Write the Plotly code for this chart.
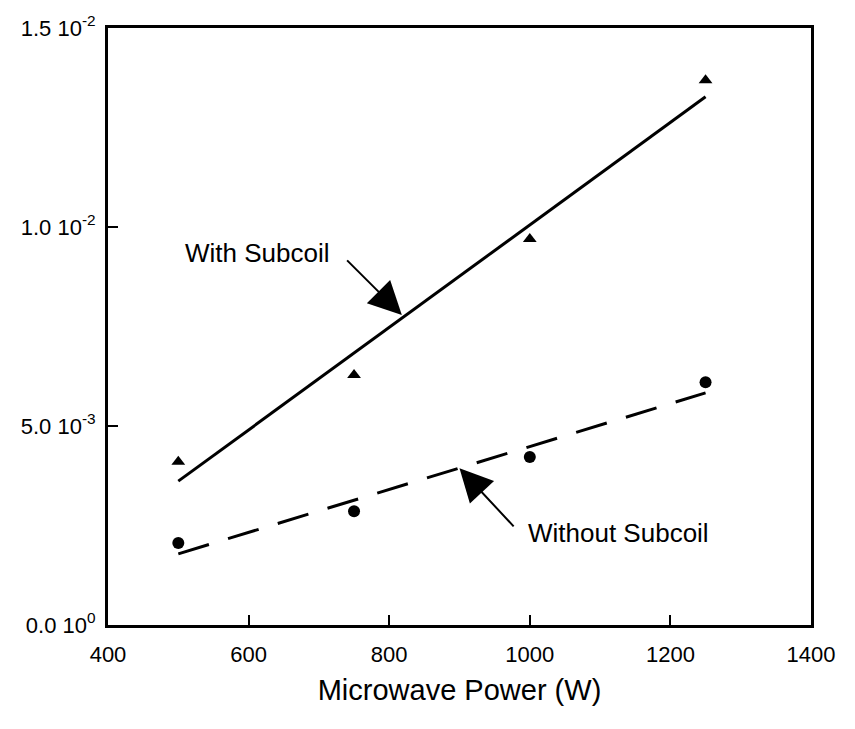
import numpy as np
import plotly.graph_objects as go

# Measured rate vs. microwave power
power_w = [500, 750, 1000, 1250]
with_subcoil = [4.10e-3, 6.28e-3, 9.70e-3, 13.69e-3]
without_subcoil = [2.06e-3, 2.86e-3, 4.22e-3, 6.10e-3]

x_ticks = [400, 600, 800, 1000, 1200, 1400]
y_ticks = [0.0, 5.0e-3, 1.0e-2, 1.5e-2]
y_tick_text = ["0.0 10<sup>0</sup>", "5.0 10<sup>-3</sup>",
               "1.0 10<sup>-2</sup>", "1.5 10<sup>-2</sup>"]

FONT = "Arial, Liberation Sans, sans-serif"

# Least-squares straight lines through each series
fit_x = np.array([power_w[0], power_w[-1]])
fit_with = np.polyval(np.polyfit(power_w, with_subcoil, 1), fit_x)
fit_without = np.polyval(np.polyfit(power_w, without_subcoil, 1), fit_x)

fig = go.Figure()
fig.add_trace(go.Scatter(x=fit_x, y=fit_with, mode="lines",
                         line=dict(color="black", width=3), showlegend=False))
fig.add_trace(go.Scatter(x=fit_x, y=fit_without, mode="lines",
                         line=dict(color="black", width=3, dash="32px,20px"),
                         showlegend=False))
fig.add_trace(go.Scatter(x=power_w, y=with_subcoil, mode="markers",
                         marker=dict(symbol="triangle-up", size=12, color="black"),
                         showlegend=False))
fig.add_trace(go.Scatter(x=power_w, y=without_subcoil, mode="markers",
                         marker=dict(symbol="circle", size=12, color="black"),
                         showlegend=False))

# Series labels with pointer arrows
fig.add_annotation(x=612, y=9.35e-3, xref="x", yref="y", text="With Subcoil",
                   showarrow=False, font=dict(family=FONT, size=26, color="black"))
fig.add_annotation(x=818, y=7.79e-3, ax=738, ay=9.2e-3, axref="x", ayref="y",
                   text="", showarrow=True, arrowhead=2, arrowsize=3.3,
                   arrowwidth=2, arrowcolor="black")
fig.add_annotation(x=1126, y=2.31e-3, xref="x", yref="y", text="Without Subcoil",
                   showarrow=False, font=dict(family=FONT, size=26, color="black"))
fig.add_annotation(x=900, y=3.94e-3, ax=979, ay=2.44e-3, axref="x", ayref="y",
                   text="", showarrow=True, arrowhead=2, arrowsize=3.3,
                   arrowwidth=2, arrowcolor="black")

fig.update_xaxes(range=[400, 1400], tickvals=x_ticks, ticks="inside", ticklen=10,
                 tickwidth=1.5, tickcolor="black", showline=True, linewidth=3,
                 linecolor="black", mirror=True, showgrid=False, zeroline=False,
                 ticklabelstandoff=8,
                 tickfont=dict(family=FONT, size=22, color="black"),
                 title=dict(text="Microwave Power (W)", standoff=14,
                            font=dict(family=FONT, size=29, color="black")))
fig.update_yaxes(range=[0, 1.5e-2], tickvals=y_ticks, ticktext=y_tick_text,
                 ticks="inside", ticklen=10, tickwidth=1.5, tickcolor="black",
                 showline=True, linewidth=3, linecolor="black", mirror=True,
                 showgrid=False, zeroline=False, ticklabelstandoff=5,
                 tickfont=dict(family=FONT, size=22, color="black"))

fig.update_layout(width=855, height=729, plot_bgcolor="white", paper_bgcolor="white",
                  margin=dict(l=108, r=44, t=28, b=104))

fig.write_html("out.html")
